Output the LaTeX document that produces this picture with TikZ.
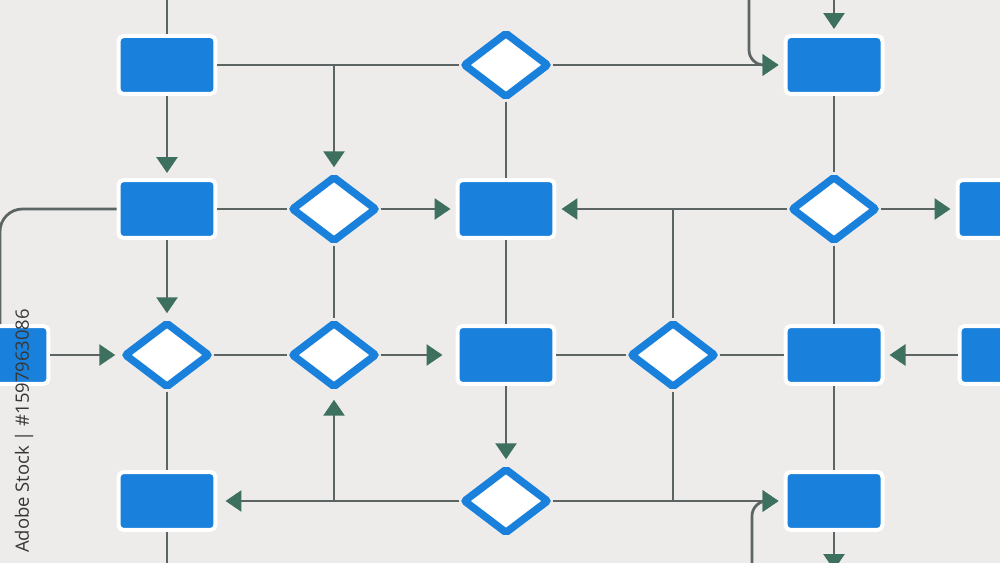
\documentclass[tikz,border=0pt]{standalone}
\usepackage{fontspec}
\setsansfont{Open Sans}
\usepackage{tikz}
\usetikzlibrary{shapes.geometric}
\usetikzlibrary{arrows.meta}
\usetikzlibrary{shadows}

\definecolor{bgcol}{RGB}{237,236,234}
\definecolor{linecol}{RGB}{92,100,100}
\definecolor{tipcol}{RGB}{62,112,96}
\definecolor{boxblue}{RGB}{25,128,220}
\definecolor{idcol}{RGB}{55,55,55}

\tikzset{
    box/.style={draw=white, fill=boxblue, line width=0.08cm, rounded corners=0.1cm,
        minimum width=1.94cm, minimum height=1.16cm, inner sep=0pt,
        drop shadow={shadow xshift=0.02cm, shadow yshift=-0.04cm, opacity=0.15}},
    choice/.style={diamond, draw=boxblue, fill=white, line width=0.15cm, rounded corners=0.04cm,
        minimum width=1.72cm, minimum height=1.32cm, inner sep=0pt},
    flow/.style={draw=linecol, line width=0.055cm},
    arr/.style={flow, -{Triangle[width=0.42cm, length=0.32cm, color=tipcol]}, shorten >=0.1cm}
}

\begin{document}
\begin{tikzpicture}[x=0.02cm, y=-0.02cm]
    \useasboundingbox (0,0) rectangle (1000,563);
    \clip (0,0) rectangle (1000,563);
    \fill[bgcol] (0,0) rectangle (1000,563);

    % row 1
    \node[box] (R1) at (167,65) {};
    \node[choice] (D1) at (506,65) {};
    \node[box] (R4) at (834,65) {};
    % row 2
    \node[box] (R2) at (167,209) {};
    \node[choice] (D2) at (334,209) {};
    \node[box] (R3) at (506,209) {};
    \node[choice] (D3) at (834,209) {};
    \node[box] (R5) at (1006,209) {};
    % row 3
    \node[box] (R6) at (0,355) {};
    \node[choice] (D4) at (167,355) {};
    \node[choice] (D5) at (334,355) {};
    \node[box] (R7) at (506,355) {};
    \node[choice] (D6) at (673,355) {};
    \node[box] (R8) at (834,355) {};
    \node[box] (R9) at (1008,355) {};
    % row 4
    \node[box] (R10) at (167,501) {};
    \node[choice] (D7) at (506,501) {};
    \node[box] (R11) at (834,501) {};

    % loose ends
    \coordinate (in1) at (167,0);
    \coordinate (in2) at (749,0);
    \coordinate (in3) at (834,0);
    \coordinate (in4) at (752,563);
    \coordinate (out1) at (167,563);
    \coordinate (out2) at (834,570);

    \draw[flow] (in1) -- (R1);
    \draw[arr] (R1) -- (R2);
    \draw[flow] (R1) -- (D1);
    \draw[arr] (R1 -| D2) -- (D2);
    \draw[arr] (D1) -- (R4);
    \draw[arr, rounded corners=0.3cm] (in2) |- (R4);
    \draw[arr] (in3) -- (R4);
    \draw[flow] (D1) -- (R3);

    \draw[flow, rounded corners=0.45cm] (R2) -| (R6);
    \draw[flow] (R2) -- (D2);
    \draw[arr] (D2) -- (R3);
    \draw[arr] (R2) -- (D4);
    \draw[arr] (D3) -- (R3);
    \draw[flow] (R3 -| D6) -- (D6);
    \draw[flow] (R4) -- (D3);
    \draw[arr] (D3) -- (R5);
    \draw[flow] (D3) -- (R8);
    \draw[flow] (R3) -- (R7);
    \draw[flow] (D2) -- (D5);

    \draw[arr] (R6) -- (D4);
    \draw[flow] (D4) -- (D5);
    \draw[arr, shorten >=0.26cm] (D5) -- (R7);
    \draw[flow] (R7) -- (D6);
    \draw[flow] (D6) -- (R8);
    \draw[arr] (R9) -- (R8);

    \draw[flow] (D4) -- (R10);
    \draw[flow] (R10) -- (out1);
    \draw[arr] (R7) -- (D7);
    \draw[arr, shorten >=0.16cm] (D7) -- (R10);
    \draw[arr, shorten >=0.16cm] (D7 -| D5) -- (D5);
    \draw[arr] (D7) -- (R11);
    \draw[flow] (D6) -- (D6 |- D7);
    \draw[arr, rounded corners=0.3cm] (in4) |- (R11);
    \draw[flow] (R8) -- (R11);
    \draw[arr, shorten >=0pt] (R11) -- (out2);

    \node[rotate=90, text=idcol, font=\sffamily\fontsize{10.5}{12}\selectfont] (stockid) at (24,431) {Adobe Stock | \#1597963086};
\end{tikzpicture}
\end{document}
